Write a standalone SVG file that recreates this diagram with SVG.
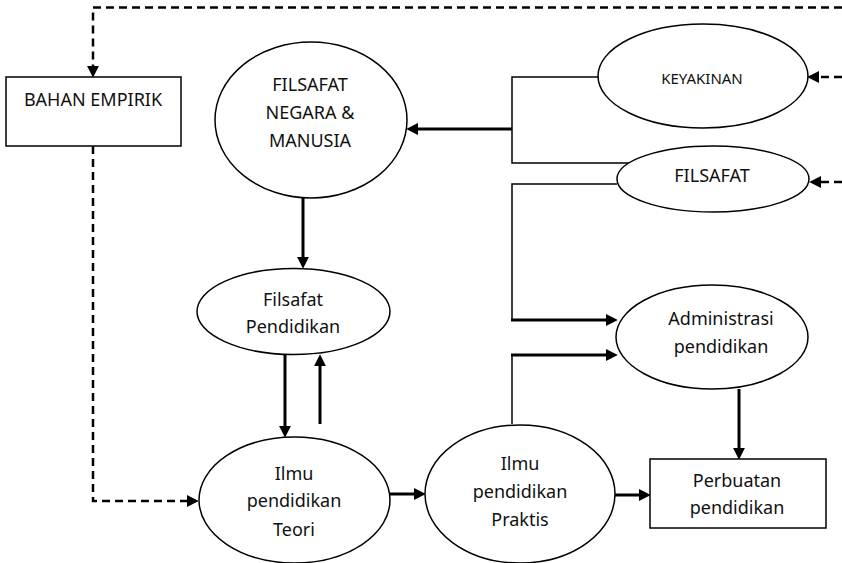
<svg xmlns="http://www.w3.org/2000/svg" width="842" height="563" viewBox="0 0 842 563">
<style>
.shape{fill:#fff;stroke:#000;stroke-width:1.5}
.t{font-family:"Noto Sans","Open Sans",sans-serif;font-size:18px;fill:#111;text-anchor:middle}
.thin{fill:none;stroke:#000;stroke-width:1.5}
.thick{fill:none;stroke:#000;stroke-width:3}
.dash{fill:none;stroke:#000;stroke-width:2.5;stroke-dasharray:8 5}
</style>
<defs>
<marker id="ah" markerUnits="userSpaceOnUse" markerWidth="12" markerHeight="12" viewBox="0 0 11 11" refX="2" refY="5.5" orient="auto">
<path d="M0,0 L11,5.5 L0,11 z" fill="#000"/>
</marker>
</defs>
<rect width="842" height="563" fill="#fff"/>
<g id="connectors">
<path class="dash" d="M842 7.5 H93 V68" marker-end="url(#ah)"/>
<path class="dash" d="M93 146 V501 H189" marker-end="url(#ah)"/>
<path class="dash" d="M842 77 H817" marker-end="url(#ah)"/>
<path class="dash" d="M842 182 H819" marker-end="url(#ah)"/>
<path class="thin" d="M599 77 H512 V163 H633"/>
<path class="thick" d="M512 129 H416" marker-end="url(#ah)"/>
<path class="thin" d="M617 184 H512 V320"/>
<path class="thick" d="M511 320 H608" marker-end="url(#ah)"/>
<path class="thin" d="M512 424 V355"/>
<path class="thick" d="M511 355 H608" marker-end="url(#ah)"/>
<path class="thick" d="M303 198 V259" marker-end="url(#ah)"/>
<path class="thick" d="M285 355 V428" marker-end="url(#ah)"/>
<path class="thick" d="M320 424 V364" marker-end="url(#ah)"/>
<path class="thick" d="M390 494 H416" marker-end="url(#ah)"/>
<path class="thick" d="M615 495 H641" marker-end="url(#ah)"/>
<path class="thick" d="M739 389 V450" marker-end="url(#ah)"/>
</g>
<g id="bahan-empirik">
<rect class="shape" x="6" y="77" width="175" height="69"/>
<text class="t" x="93" y="106">BAHAN EMPIRIK</text>
</g>
<g id="filsafat-negara">
<ellipse class="shape" cx="311" cy="120" rx="96" ry="78"/>
<text class="t" x="310" y="91">FILSAFAT</text>
<text class="t" x="310" y="119">NEGARA &amp;</text>
<text class="t" x="310" y="147">MANUSIA</text>
</g>
<g id="keyakinan">
<ellipse class="shape" cx="703" cy="76" rx="105" ry="52"/>
<text class="t" x="702" y="84" style="font-size:15px">KEYAKINAN</text>
</g>
<g id="filsafat">
<ellipse class="shape" cx="713" cy="179" rx="96" ry="33"/>
<text class="t" x="712" y="182">FILSAFAT</text>
</g>
<g id="filsafat-pendidikan">
<ellipse class="shape" cx="293.5" cy="311.5" rx="96.5" ry="43"/>
<text class="t" x="293" y="306">Filsafat</text>
<text class="t" x="293" y="333">Pendidikan</text>
</g>
<g id="ilmu-teori">
<ellipse class="shape" cx="294.5" cy="500" rx="95.5" ry="63"/>
<text class="t" x="294" y="480">Ilmu</text>
<text class="t" x="294" y="507">pendidikan</text>
<text class="t" x="294" y="536">Teori</text>
</g>
<g id="ilmu-praktis">
<ellipse class="shape" cx="520" cy="494" rx="95" ry="69"/>
<text class="t" x="520" y="470">Ilmu</text>
<text class="t" x="520" y="498">pendidikan</text>
<text class="t" x="520" y="526">Praktis</text>
</g>
<g id="administrasi">
<ellipse class="shape" cx="712" cy="337" rx="96" ry="52"/>
<text class="t" x="721" y="325">Administrasi</text>
<text class="t" x="721" y="353">pendidikan</text>
</g>
<g id="perbuatan">
<rect class="shape" x="650" y="459" width="176" height="69"/>
<text class="t" x="737" y="487">Perbuatan</text>
<text class="t" x="737" y="514">pendidikan</text>
</g>
</svg>
